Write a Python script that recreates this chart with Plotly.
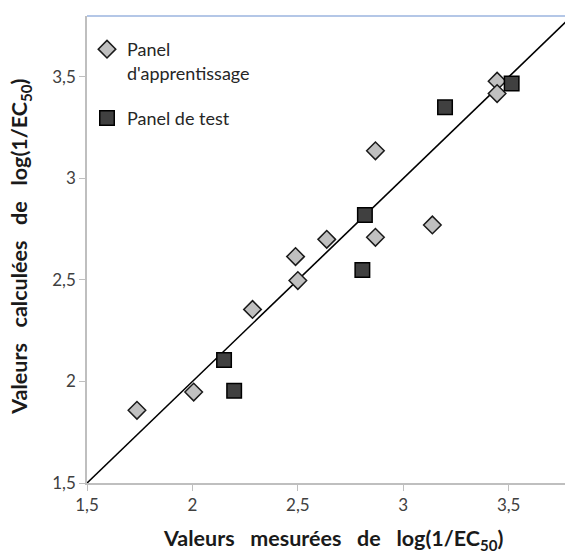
import plotly.graph_objects as go

# Panel d'apprentissage (training set): measured vs calculated log(1/EC50)
train_measured = [1.737, 2.006, 2.285, 2.500, 2.489, 2.637, 2.868, 2.868, 3.138, 3.445, 3.445]
train_calculated = [1.858, 1.948, 2.355, 2.497, 2.615, 2.700, 2.710, 3.136, 2.771, 3.479, 3.418]

# Panel de test (test set)
test_measured = [2.150, 2.198, 2.806, 2.818, 3.198, 3.514]
test_calculated = [2.106, 1.954, 2.549, 2.820, 3.350, 3.467]

# Identity line y = x
identity = [1.5, 3.8]

x_range = [1.5, 3.767]
y_range = [1.5, 3.8]
tick_vals = [1.5, 2, 2.5, 3, 3.5]

FONT = "Lato"
TEXT = "#404040"
GAP = "\u00a0\u00a0\u00a0"

fig = go.Figure()

fig.add_trace(go.Scatter(
    x=identity, y=identity, mode="lines",
    line=dict(color="black", width=1.6),
    showlegend=False, hoverinfo="skip", cliponaxis=True,
))

fig.add_trace(go.Scatter(
    x=train_measured, y=train_calculated, mode="markers",
    name="Panel<br>d'apprentissage",
    legendgroup="a",
    marker=dict(symbol="diamond", size=13.5, color="#c0c0c0",
                line=dict(color="#1a1a1a", width=1.5)),
))

fig.add_trace(go.Scatter(
    x=test_measured, y=test_calculated, mode="markers",
    name="Panel de test",
    legendgroup="b",
    marker=dict(symbol="square", size=14.5, color="#404040",
                line=dict(color="#000000", width=1.5)),
))

axis_common = dict(
    showgrid=False, zeroline=False,
    showline=True, linecolor="#bfbfbf", linewidth=1.5,
    ticks="outside", ticklen=6, tickcolor="#bfbfbf", tickwidth=1,
    tickvals=tick_vals,
    tickfont=dict(family=FONT, size=17, color=TEXT),
)

fig.update_layout(
    width=565, height=554,
    margin=dict(l=87, r=0, t=16, b=71),
    paper_bgcolor="white", plot_bgcolor="white",
    separators=", ",
    font=dict(family=FONT, color=TEXT),
    xaxis=dict(range=x_range, **axis_common),
    yaxis=dict(range=y_range, **axis_common),
    legend=dict(
        x=0.0, y=0.968, xanchor="left", yanchor="top",
        bgcolor="rgba(0,0,0,0)",
        font=dict(family=FONT, size=18, color="#262626"),
        valign="top", traceorder="grouped", tracegroupgap=19,
        itemwidth=30,
    ),
    shapes=[dict(type="line", xref="paper", yref="paper",
                 x0=0, x1=1, y0=1, y1=1,
                 line=dict(color="#b4c7e7", width=2))],
    annotations=[
        dict(text=f"Valeurs{GAP}mesurées{GAP}de{GAP}log(1/EC<sub>50</sub>)",
             xref="paper", yref="paper", x=0.515, y=-0.121,
             xanchor="center", yanchor="middle", showarrow=False,
             font=dict(family=FONT, size=21.5, color="#1a1a1a", weight="bold")),
        dict(text=f"Valeurs{GAP}calculées{GAP}de{GAP}log(1/EC<sub>50</sub>)",
             xref="paper", yref="paper", x=-0.138, y=0.506,
             xanchor="center", yanchor="middle", showarrow=False, textangle=-90,
             font=dict(family=FONT, size=21.5, color="#1a1a1a", weight="bold")),
    ],
)

fig.write_html("out.html")
